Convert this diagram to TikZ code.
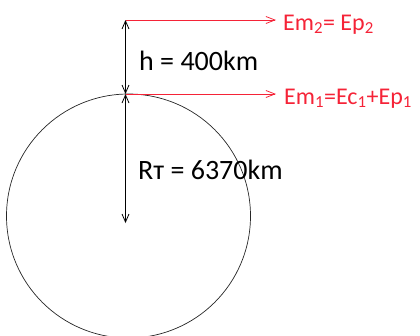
\documentclass[tikz,border=0pt]{standalone}
\usepackage{fontspec}
\setmainfont{Carlito}
\usepackage{tikz}
\usetikzlibrary{arrows.meta}
\definecolor{energyred}{RGB}{245,35,55}

\begin{document}
\begin{tikzpicture}[
  x=1pt, y=-1pt,
  dim/.style={draw, line width=0.8pt, {Straight Barb[length=8pt,width=7pt]}-{Straight Barb[length=8pt,width=7pt]}},
  energy/.style={draw=energyred, line width=0.8pt, -{Straight Barb[length=9pt,width=7pt]}},
  lbl/.style={anchor=base west, inner sep=0pt, font=\fontsize{28}{30}\selectfont},
  elbl/.style={anchor=base west, inner sep=0pt, text=energyred, font=\fontsize{24}{26}\selectfont}
]
\useasboundingbox (0,0) rectangle (420,335);
\coordinate (orbit) at (125.5,20);
\coordinate (surface) at (125.5,94);
\coordinate (centre) at (125.5,223);
\draw[line width=0.7pt, black!85] (128.5,216) circle[radius=122];
\coordinate (e2end) at (276,20);
\coordinate (e1end) at (276,94);
\node[lbl] (h) at (139,70) {h = 400km};
\node[lbl] (rt) at (138,179) {Rт = 6370km};
\node[elbl] (e2) at (283,30) {Em\textsubscript{2}= Ep\textsubscript{2}};
\node[elbl] (e1) at (284,104) {Em\textsubscript{1}=Ec\textsubscript{1}+Ep\textsubscript{1}};
\draw[dim] (orbit) -- (surface);
\draw[dim] (surface) -- (centre);
\draw[energy] (orbit) -- (e2end);
\draw[energy] (surface) -- (e1end);
\end{tikzpicture}
\end{document}
